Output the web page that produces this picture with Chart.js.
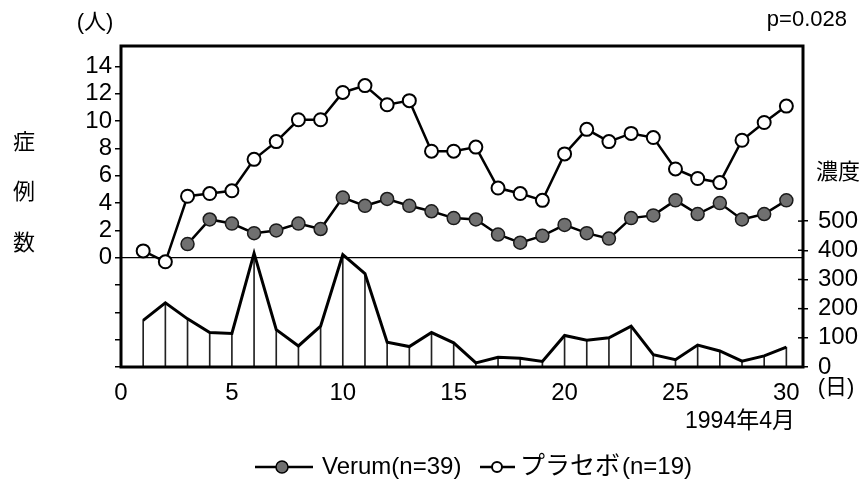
<!DOCTYPE html>
<html>
<head>
<meta charset="utf-8">
<script src="https://cdn.jsdelivr.net/npm/chart.js@4/dist/chart.umd.min.js"></script>
<style>
  html, body { margin: 0; padding: 0; background: #fff; }
</style>
</head>
<body>
<canvas id="chart" width="865" height="485"></canvas>
<script>
// 日別の症例数（左軸）と花粉濃度（右軸）
const days = [1,2,3,4,5,6,7,8,9,10,11,12,13,14,15,16,17,18,19,20,21,22,23,24,25,26,27,28,29,30];
const verum = [null,null,1.0,2.8,2.5,1.8,2.0,2.5,2.1,4.4,3.8,4.3,3.8,3.4,2.9,2.8,1.7,1.1,1.6,2.4,1.8,1.4,2.9,3.1,4.2,3.2,4.0,2.8,3.2,4.2];
const placebo = [0.5,-0.3,4.5,4.7,4.9,7.2,8.5,10.1,10.1,12.1,12.6,11.2,11.5,7.8,7.8,8.1,5.1,4.7,4.2,7.6,9.4,8.5,9.1,8.8,6.5,5.8,5.5,8.6,9.9,11.1];
const pollen = [160,220,165,118,115,390,128,72,140,385,320,85,70,118,83,14,33,30,19,108,92,100,140,42,25,75,55,20,38,68];

const leftTicks = [-8,-6,-4,-2,0,2,4,6,8,10,12,14];
const rightTicks = [0,100,200,300,400,500];
const dayTicks = [0,5,10,15,20,25,30];

const numFont = 'Liberation Sans';
const jpFont = '"Liberation Sans", "Noto Sans CJK JP"';

function points(values){
    return days.map((d,i) => ({x: d, y: values[i]}));
}

// 枠線・0の基準線・右軸の内側の目盛り
const framePlugin = {
    id: 'frame',
    beforeDatasetsDraw(chart){
        const {ctx, chartArea, scales} = chart;
        const y0 = scales.y.getPixelForValue(0);
        ctx.save();
        ctx.strokeStyle = '#000';
        ctx.lineWidth = 1.2;
        ctx.beginPath();
        ctx.moveTo(chartArea.left, y0);
        ctx.lineTo(chartArea.right, y0);
        ctx.stroke();
        ctx.restore();
    },
    afterDatasetsDraw(chart){
        const {ctx, chartArea, scales} = chart;
        const a = chartArea;
        ctx.save();
        ctx.strokeStyle = '#000';
        ctx.lineWidth = 3;
        ctx.strokeRect(a.left, a.top, a.right - a.left, a.bottom - a.top);
        ctx.lineWidth = 1.5;
        rightTicks.forEach(v => {
            const y = scales.y2.getPixelForValue(v);
            ctx.beginPath();
            ctx.moveTo(a.right - 5, y);
            ctx.lineTo(a.right, y);
            ctx.stroke();
        });
        ctx.restore();
    }
};

// 軸名・注記・凡例
const textPlugin = {
    id: 'texts',
    afterDraw(chart){
        const ctx = chart.ctx;
        ctx.save();
        ctx.fillStyle = '#000';
        ctx.textBaseline = 'middle';

        ctx.textAlign = 'center';
        ctx.font = '22px ' + jpFont;
        ctx.fillText('(人)', 95, 23);
        ctx.fillText('症', 24, 143);
        ctx.fillText('例', 24, 193);
        ctx.fillText('数', 24, 244);
        ctx.fillText('濃度', 838, 173);
        ctx.fillText('(日)', 836, 388);
        ctx.font = '23px ' + jpFont;
        ctx.fillText('1994年4月', 740, 422);

        ctx.textAlign = 'right';
        ctx.font = '22px ' + numFont;
        ctx.fillText('p=0.028', 847, 20);

        // 凡例
        const ly = 467;
        ctx.strokeStyle = '#000';
        ctx.lineWidth = 2.5;
        ctx.beginPath();
        ctx.moveTo(255, ly); ctx.lineTo(313, ly);
        ctx.moveTo(480, ly); ctx.lineTo(515, ly);
        ctx.stroke();
        ctx.lineWidth = 1.5;
        ctx.fillStyle = '#707070';
        ctx.beginPath();
        ctx.arc(282, ly, 6, 0, Math.PI * 2);
        ctx.fill(); ctx.stroke();
        ctx.fillStyle = '#fff';
        ctx.lineWidth = 2;
        ctx.beginPath();
        ctx.arc(497, ly, 5, 0, Math.PI * 2);
        ctx.fill(); ctx.stroke();

        ctx.fillStyle = '#000';
        ctx.textAlign = 'left';
        ctx.font = '24px ' + jpFont;
        ctx.fillText('Verum(n=39)', 322, ly);
        ctx.font = '25px ' + jpFont;
        ctx.fillText('プラセボ', 520, ly);
        const kanaW = ctx.measureText('プラセボ').width;
        ctx.font = '24px ' + jpFont;
        ctx.fillText('(n=19)', 522 + kanaW, ly);
        ctx.restore();
    }
};

new Chart(document.getElementById('chart'), {
    data: {
        datasets: [
            {
                type: 'bar',
                yAxisID: 'y2',
                data: points(pollen),
                backgroundColor: '#222',
                barThickness: 1,
                order: 4
            },
            {
                type: 'line',
                yAxisID: 'y2',
                data: points(pollen),
                borderColor: '#000',
                borderWidth: 3,
                pointRadius: 0,
                tension: 0,
                order: 3
            },
            {
                type: 'line',
                label: 'プラセボ(n=19)',
                yAxisID: 'y',
                data: points(placebo),
                borderColor: '#000',
                borderWidth: 2.5,
                pointRadius: 6.5,
                pointBackgroundColor: '#fff',
                pointBorderColor: '#000',
                pointBorderWidth: 2,
                tension: 0,
                order: 2
            },
            {
                type: 'line',
                label: 'Verum(n=39)',
                yAxisID: 'y',
                data: points(verum),
                borderColor: '#000',
                borderWidth: 2.5,
                pointRadius: 6.5,
                pointBackgroundColor: '#707070',
                pointBorderColor: '#1a1a1a',
                pointBorderWidth: 1.5,
                tension: 0,
                order: 1
            }
        ]
    },
    options: {
        responsive: false,
        devicePixelRatio: 1,
        animation: false,
        events: [],
        layout: { padding: { top: 46, left: 0, right: 0, bottom: 0 } },
        plugins: {
            legend: { display: false },
            tooltip: { enabled: false }
        },
        scales: {
            x: {
                type: 'linear',
                offset: false,
                min: 0,
                max: 30.75,
                grid: { display: false, offset: false },
                border: { display: false },
                ticks: {
                    color: '#000',
                    font: { family: numFont, size: 24 },
                    padding: 4,
                    maxRotation: 0,
                    autoSkip: false
                },
                afterBuildTicks: s => { s.ticks = dayTicks.map(v => ({value: v})); },
                afterFit: s => { s.height = 118; }
            },
            y: {
                position: 'left',
                min: -8,
                max: 15.5,
                grid: { drawOnChartArea: false, tickLength: 6, color: '#000', lineWidth: 1.5 },
                border: { display: false },
                ticks: {
                    color: '#000',
                    font: { family: numFont, size: 24 },
                    padding: 3,
                    autoSkip: false,
                    callback: v => (v >= 0 ? v : '')
                },
                afterBuildTicks: s => { s.ticks = leftTicks.map(v => ({value: v})); },
                afterFit: s => { s.width = 121; }
            },
            y2: {
                position: 'right',
                min: 0,
                max: 1100,
                grid: { drawOnChartArea: false, tickLength: 5, color: '#000', lineWidth: 1.5 },
                border: { display: false },
                ticks: {
                    color: '#000',
                    font: { family: numFont, size: 24 },
                    padding: 10,
                    autoSkip: false
                },
                afterBuildTicks: s => { s.ticks = rightTicks.map(v => ({value: v})); },
                afterFit: s => { s.width = 62; }
            }
        }
    },
    plugins: [framePlugin, textPlugin]
});
</script>
</body>
</html>
